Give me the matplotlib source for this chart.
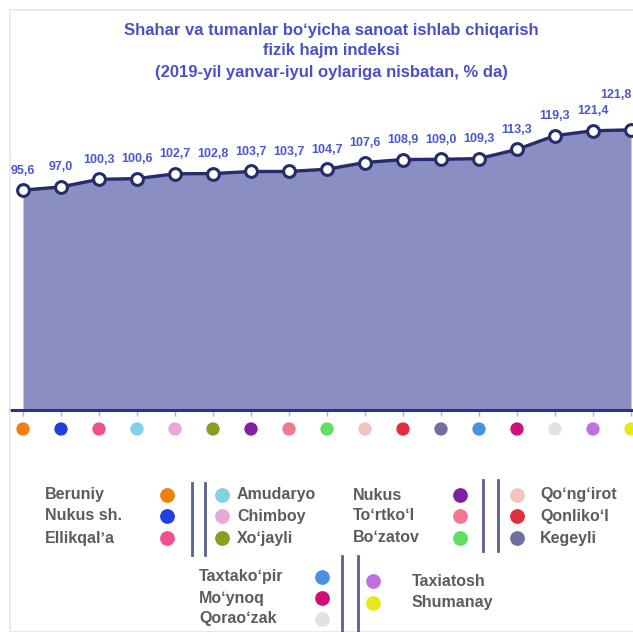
import matplotlib
matplotlib.use("Agg")
import matplotlib.pyplot as plt
from matplotlib.lines import Line2D
from matplotlib.patches import Rectangle

plt.rcParams['font.family'] = ['Liberation Sans', 'DejaVu Sans']

# ---------------- data ----------------
TITLE_LINES = [
    "Shahar va tumanlar boʻyicha sanoat ishlab chiqarish",
    "fizik hajm indeksi",
    "(2019-yil yanvar-iyul oylariga nisbatan, % da)",
]
categories = ["Beruniy", "Nukus sh.", "Ellikqalʼa", "Amudaryo", "Chimboy", "Xoʻjayli",
              "Nukus", "Toʻrtkoʻl", "Boʻzatov", "Qoʻngʻirot", "Qonlikoʻl", "Kegeyli",
              "Taxtakoʻpir", "Moʻynoq", "Qoraoʻzak", "Taxiatosh", "Shumanay"]
values = [95.6, 97.0, 100.3, 100.6, 102.7, 102.8, 103.7, 103.7, 104.7, 107.6,
          108.9, 109.0, 109.3, 113.3, 119.3, 121.4, 121.8]
dot_colors = ["#f07f10", "#1f3fe0", "#f0508f", "#80d0e8", "#e8a8d8", "#8a9e20",
              "#8020a0", "#f07890", "#60e060", "#f0c4c0", "#e03040", "#7070a0",
              "#4a90e0", "#d0107a", "#e2e2e2", "#c070e0", "#e8e820"]

W, H = 633, 632
fig = plt.figure(figsize=(W / 100, H / 100), dpi=100)
fig.patch.set_facecolor("white")

def fx(px):
    return px / W

def fy(py):
    return 1 - py / H

# faint panel frame
fig.patches.append(Rectangle((fx(10), 0), 1, fy(10), transform=fig.transFigure,
                             facecolor="none", edgecolor="#e6e6e6", lw=1.2))

# ---------------- main chart ----------------
ax = fig.add_axes([fx(10), fy(410), fx(623), 380 / H])
n = len(values)
xs = list(range(n))
x0_px, step_px = 23, 38
ax.set_xlim((10 - x0_px) / step_px, (633 - x0_px) / step_px)
ax.set_ylim(0, 380 / 2.3)
ax.patch.set_alpha(0)

ax.fill_between(xs, values, 0, color="#8a8ec2", lw=0)
ax.plot(xs, values, color="#262b6c", lw=2.4, marker="o", ms=8.5,
        mfc="white", mec="#262b6c", mew=2.2, zorder=3)

for i, v in enumerate(values):
    label = f"{v:.1f}".replace(".", ",")
    if i == n - 1:
        off = (-11, 25)
    else:
        off = (0, 14)
    ax.annotate(label, (i, v), xytext=off, textcoords="offset points",
                ha="center", va="center", fontsize=9, fontweight="bold",
                color="#4a58cc", annotation_clip=False, zorder=4)

for s in ["top", "right", "left"]:
    ax.spines[s].set_visible(False)
ax.spines["bottom"].set_color("#2a3580")
ax.spines["bottom"].set_linewidth(2.2)
ax.set_yticks([])
ax.set_xticks(xs)
ax.set_xticklabels([])
ax.tick_params(axis="x", length=4, color="#b0b0c8", width=1)

# coloured category dots under the axis
ax.scatter(xs, [-19 / 380] * n, s=92, c=dot_colors, transform=ax.get_xaxis_transform(),
           clip_on=False, zorder=5, lw=0)

# ---------------- title ----------------
for line, py in zip(TITLE_LINES, [30, 51, 72]):
    fig.text(fx(331), fy(py), line, ha="center", va="center", fontsize=12,
             fontweight="bold", color="#4b50c4")

# ---------------- custom legend ----------------
TXT = dict(fontsize=11.5, fontweight="bold", color="#5c5c5c", va="center")
BAR_C = "#5a5f90"

def legend_block(idx_left, idx_right, text_l_x, dot_l_x, bars_x, dot_r_x, text_r_x,
                 rows_l, rows_r, bar_y):
    for k, py in zip(idx_left, rows_l):
        fig.text(fx(text_l_x), fy(py), categories[k], ha="left", **TXT)
        fig.add_artist(Line2D([fx(dot_l_x)], [fy(py)], marker="o", ms=9.6, lw=0,
                              color=dot_colors[k], transform=fig.transFigure))
    for k, py in zip(idx_right, rows_r):
        fig.text(fx(text_r_x), fy(py), categories[k], ha="left", **TXT)
        fig.add_artist(Line2D([fx(dot_r_x)], [fy(py)], marker="o", ms=9.6, lw=0,
                              color=dot_colors[k], transform=fig.transFigure))
    for bx in bars_x:
        fig.add_artist(Line2D([fx(bx), fx(bx)], [fy(bar_y[0]), fy(bar_y[1])],
                              color=BAR_C, lw=2, transform=fig.transFigure))

rows1 = [495, 516, 538]
legend_block([0, 1, 2], [3, 4, 5], 45, 167, [192, 205], 222, 237, rows1, rows1, (483, 555))
legend_block([6, 7, 8], [9, 10, 11], 353, 460, [483, 498], 517, 540, rows1, rows1, (480, 551))
legend_block([12, 13, 14], [15, 16], 199, 322, [342, 358], 373, 412,
             [577, 598, 619], [581, 603], (556, 640))

fig.savefig("out.png", dpi=100)
